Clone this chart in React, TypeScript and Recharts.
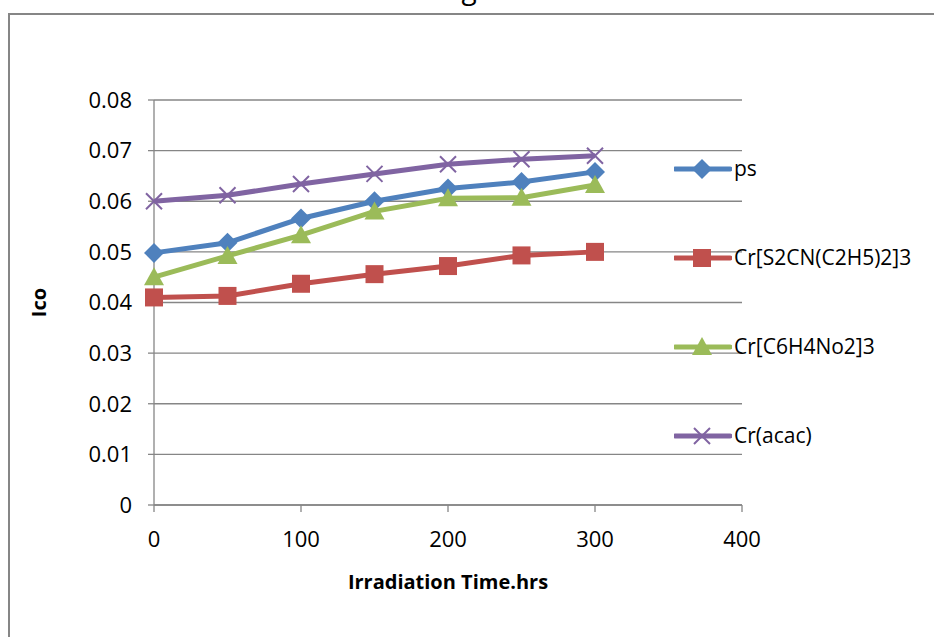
import React from "react";
import {
  LineChart,
  Line,
  XAxis,
  YAxis,
  CartesianGrid,
  Legend,
} from "recharts";

const hours = [0, 50, 100, 150, 200, 250, 300];
const psValues = [0.0498, 0.0518, 0.0566, 0.06, 0.0625, 0.0638, 0.0658];
const crDtcValues = [0.041, 0.0413, 0.0437, 0.0456, 0.0472, 0.0493, 0.05];
const crNitroValues = [0.045, 0.0492, 0.0533, 0.058, 0.0606, 0.0607, 0.0632];
const crAcacValues = [0.06, 0.0612, 0.0634, 0.0654, 0.0673, 0.0683, 0.069];

const xTicks = [0, 100, 200, 300, 400];
const yTicks = [0, 0.01, 0.02, 0.03, 0.04, 0.05, 0.06, 0.07, 0.08];

const seriesNames = ["ps", "Cr[S2CN(C2H5)2]3", "Cr[C6H4No2]3", "Cr(acac)"];
const seriesColors = ["#4F81BD", "#C0504D", "#9BBB59", "#8064A2"];
const seriesShapes = ["diamond", "square", "triangle", "cross"];

const data = hours.map((h, i) => ({
  time: h,
  s0: psValues[i],
  s1: crDtcValues[i],
  s2: crNitroValues[i],
  s3: crAcacValues[i],
}));

const FONT = "'Open Sans', sans-serif";
const AXIS = "#868686";

const marker = (shape: string, color: string, cx: number, cy: number, key?: any) => {
  if (shape === "diamond") {
    const r = 10;
    return (
      <path key={key} d={`M${cx},${cy - r}L${cx + r},${cy}L${cx},${cy + r}L${cx - r},${cy}Z`} fill={color} />
    );
  }
  if (shape === "square") {
    const r = 9;
    return <rect key={key} x={cx - r} y={cy - r} width={2 * r} height={2 * r} fill={color} />;
  }
  if (shape === "triangle") {
    const r = 10;
    return (
      <path key={key} d={`M${cx},${cy - r}L${cx + r},${cy + r * 0.8}L${cx - r},${cy + r * 0.8}Z`} fill={color} />
    );
  }
  const r = 8;
  return (
    <path
      key={key}
      d={`M${cx - r},${cy - r}L${cx + r},${cy + r}M${cx - r},${cy + r}L${cx + r},${cy - r}`}
      stroke={color}
      strokeWidth={2}
      fill="none"
    />
  );
};

const makeDot = (idx: number) => (props: any) =>
  marker(seriesShapes[idx], seriesColors[idx], props.cx, props.cy, props.key ?? props.index);

const LegendBox = () => (
  <div style={{ position: "relative", width: 260, height: 300, fontFamily: FONT, fontSize: 21 }}>
    {seriesNames.map((name, i) => (
      <div key={name} style={{ position: "absolute", left: 0, top: i * 89 - 15, height: 30, whiteSpace: "nowrap" }}>
        <svg width={58} height={30} style={{ position: "absolute", left: 0, top: 0 }}>
          <line x1={1} y1={15} x2={56} y2={15} stroke={seriesColors[i]} strokeWidth={5} strokeLinecap="round" />
          {marker(seriesShapes[i], seriesColors[i], 28, 15)}
        </svg>
        <span style={{ position: "absolute", left: 60, top: -1, lineHeight: "30px", color: "#000" }}>{name}</span>
      </div>
    ))}
  </div>
);

const YLabel = (props: any) => {
  const vb = props.viewBox;
  const cy = vb.y + vb.height / 2;
  return (
    <text
      x={38}
      y={cy}
      transform={`rotate(-90, 38, ${cy})`}
      textAnchor="middle"
      dominantBaseline="central"
      fontFamily={FONT}
      fontWeight="bold"
      fontSize={20}
      fill="#000"
    >
      Ico
    </text>
  );
};

export default function App() {
  return (
    <div style={{ position: "fixed", left: 0, top: 0, width: 934, height: 637, overflow: "hidden", background: "#fff" }}>
      <div
        style={{
          position: "absolute",
          left: 8,
          top: 13,
          width: 1000,
          height: 700,
          border: `2px solid ${AXIS}`,
        }}
      />
      <div
        style={{
          position: "absolute",
          left: 0,
          width: 934,
          top: -27,
          textAlign: "center",
          fontFamily: FONT,
          fontSize: 28,
          lineHeight: "30px",
          paddingLeft: 2,
        }}
      >
        g
      </div>
      <div style={{ position: "absolute", left: 0, top: 0 }}>
        <LineChart width={934} height={637} data={data} margin={{ top: 100, right: 192, bottom: 92, left: 94 }}>
          <CartesianGrid vertical={false} stroke={AXIS} strokeWidth={1.3} />
          <XAxis
            dataKey="time"
            type="number"
            domain={[0, 400]}
            ticks={xTicks}
            height={40}
            stroke={AXIS}
            strokeWidth={1.3}
            tickSize={7}
            tickMargin={19}
            tick={{ fill: "#000", fontFamily: FONT, fontSize: 22 }}
            label={{
              value: "Irradiation Time.hrs",
              position: "insideBottom",
              offset: -44,
              fill: "#000",
              fontFamily: FONT,
              fontWeight: "bold",
              fontSize: 20,
            }}
          />
          <YAxis
            type="number"
            domain={[0, 0.08]}
            ticks={yTicks}
            width={60}
            stroke={AXIS}
            strokeWidth={1.3}
            tickSize={6}
            tickMargin={16}
            tickFormatter={(v: number) => (v === 0 ? "0" : v.toFixed(2))}
            tick={{ fill: "#000", fontFamily: FONT, fontSize: 22 }}
            label={<YLabel />}
          />
          <Legend
            layout="horizontal"
            verticalAlign="middle"
            align="center"
            content={() => <LegendBox />}
            wrapperStyle={{ position: "absolute", left: 674, top: 169, width: 260, height: 300 }}
          />
          {seriesNames.map((name, i) => (
            <Line
              key={name}
              name={name}
              dataKey={`s${i}`}
              stroke={seriesColors[i]}
              strokeWidth={5}
              dot={makeDot(i)}
              activeDot={false}
              isAnimationActive={false}
            />
          ))}
        </LineChart>
      </div>
    </div>
  );
}
